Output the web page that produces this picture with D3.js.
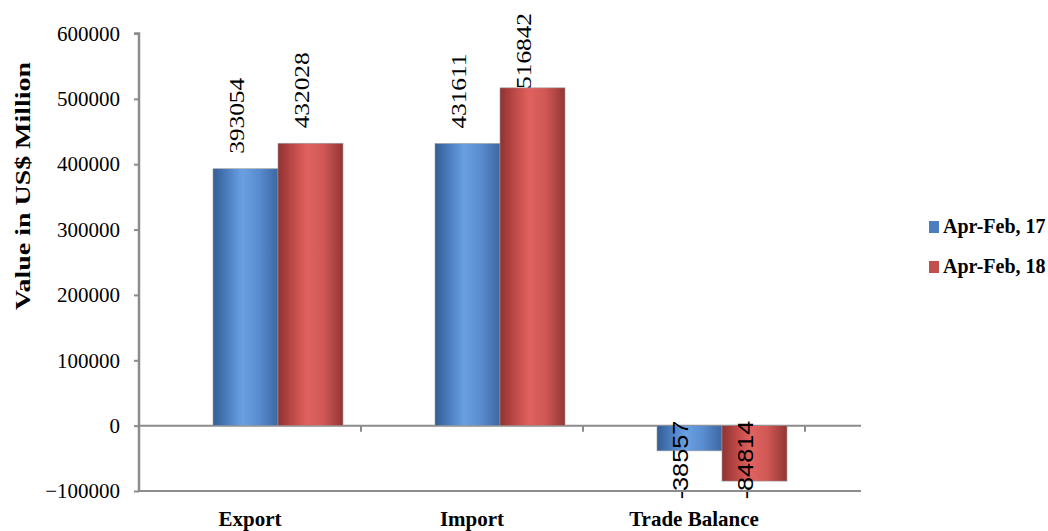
<!DOCTYPE html>
<html>
<head>
<meta charset="utf-8">
<script src="https://cdn.jsdelivr.net/npm/d3@7"></script>
<style>
    body { margin: 0; background: #fff; }
    svg { display: block; }
    text { font-family: "Liberation Serif", "Times New Roman", serif; }
    text.sans { font-family: "Liberation Sans", Arial, sans-serif; }
</style>
</head>
<body>
<svg id="chart" width="1048" height="531"></svg>
<script>
var categories = ["Export", "Import", "Trade Balance"];
var seriesNames = ["Apr-Feb, 17", "Apr-Feb, 18"];
var values17 = [393054, 431611, -38557];
var values18 = [432028, 516842, -84814];
var yTicks = [-100000, 0, 100000, 200000, 300000, 400000, 500000, 600000];

(function () {
    var svg = d3.select("#chart"),
        defs = svg.append("defs");

    var y = d3.scaleLinear()
        .domain([-100000, 600000])
        .range([491, 33.5]);

    // category slots (front face of the 3d floor)
    var x0 = d3.scaleBand()
        .domain(categories)
        .range([139, 805])
        .padding(0);

    var x1 = d3.scaleBand()
        .domain(seriesNames)
        .range([0, 130]);

    var depth = 28;

    // cylinder-ish shading like the excel bars
    var shades = [
        { id: "gBlue", stops: ["#335d95", "#4f82c4", "#6aa0e2", "#5a8dd0", "#3c67a2"] },
        { id: "gRed", stops: ["#8f3331", "#c24b49", "#e0625f", "#cf5855", "#923634"] }
    ];
    shades.forEach(function (s) {
        var lg = defs.append("linearGradient").attr("id", s.id)
            .attr("x1", "0").attr("x2", "1").attr("y1", "0").attr("y2", "0");
        s.stops.forEach(function (c, i) {
            lg.append("stop").attr("offset", [0, 0.25, 0.45, 0.7, 1][i]).attr("stop-color", c);
        });
    });
    var fills = { "Apr-Feb, 17": "url(#gBlue)", "Apr-Feb, 18": "url(#gRed)" };
    var keyColors = { "Apr-Feb, 17": "#4a7ebf", "Apr-Feb, 18": "#c0504d" };

    var rows = categories.map(function (c, i) {
        return { cat: c, vals: [
            { s: seriesNames[0], v: values17[i] },
            { s: seriesNames[1], v: values18[i] }
        ] };
    });

    // floor lines
    svg.append("line")
        .attr("x1", 139).attr("x2", 861)
        .attr("y1", y(0)).attr("y2", y(0))
        .attr("stroke", "#8c8c8c").attr("stroke-width", 2);
    svg.append("line")
        .attr("x1", 139).attr("x2", 861)
        .attr("y1", y(-100000)).attr("y2", y(-100000))
        .attr("stroke", "#8c8c8c").attr("stroke-width", 2);

    // y axis
    var yAxis = svg.append("g")
        .attr("transform", "translate(139,0)")
        .call(d3.axisLeft(y).tickValues(yTicks).tickSize(5).tickPadding(14).tickFormat(d3.format("d")));
    yAxis.attr("font-family", null).attr("font-size", null);
    yAxis.select(".domain").attr("stroke", "#8c8c8c").attr("stroke-width", 2.5)
        .attr("d", "M0," + y(-100000) + "V" + y(600000) + "h-5");
    yAxis.selectAll(".tick line").attr("stroke", "#8c8c8c").attr("stroke-width", 2);
    yAxis.selectAll(".tick text")
        .attr("fill", "#000")
        .style("font-size", "21px");

    // category ticks on the zero line
    svg.selectAll(".ctick")
        .data(categories)
        .enter().append("line")
        .attr("class", "ctick")
        .attr("x1", function (d) { return x0(d) + x0.bandwidth(); })
        .attr("x2", function (d) { return x0(d) + x0.bandwidth(); })
        .attr("y1", y(0))
        .attr("y2", y(0) + 6)
        .attr("stroke", "#8c8c8c").attr("stroke-width", 2);

    // category labels
    svg.selectAll(".clabel")
        .data(categories)
        .enter().append("text")
        .attr("class", "clabel")
        .attr("x", function (d) { return x0(d) + x0.bandwidth() / 2; })
        .attr("y", 526)
        .attr("text-anchor", "middle")
        .style("font-size", "21px")
        .style("font-weight", "bold")
        .text(function (d) { return d; });

    // bars
    var groups = svg.selectAll(".grp")
        .data(rows)
        .enter().append("g")
        .attr("class", "grp")
        .attr("transform", function (d) {
            return "translate(" + (x0(d.cat) + x0.bandwidth() / 2 + depth - 65) + ",0)";
        });

    groups.selectAll("rect")
        .data(function (d) { return d.vals; })
        .enter().append("rect")
        .attr("x", function (d) { return x1(d.s); })
        .attr("width", x1.bandwidth())
        .attr("y", function (d) { return Math.min(y(d.v), y(0)); })
        .attr("height", function (d) { return Math.abs(y(d.v) - y(0)); })
        .attr("fill", function (d) { return fills[d.s]; })
        .attr("stroke", "#9a9a9a")
        .attr("stroke-width", 0.6);

    // value labels (rotated)
    groups.selectAll(".vlabel")
        .data(function (d) { return d.vals; })
        .enter().append("text")
        .attr("class", function (d) { return d.v < 0 ? "vlabel sans" : "vlabel"; })
        .style("font-size", "22px")
        .attr("text-anchor", function (d) { return d.v < 0 ? "end" : "start"; })
        .attr("dy", "0.35em")
        .text(function (d) { return d.v; })
        .attr("transform", function (d) {
            var cx = x1(d.s) + x1.bandwidth() / 2 - 9;
            var len = this.getComputedTextLength() * 1.15;
            var yy;
            if (d.v < 0) {
                yy = y(0) - 5;
            } else {
                yy = Math.max(y(d.v) - 15, 13 + len);
                if (yy > y(d.v) + 2) yy = y(d.v) + 2;
            }
            return "translate(" + cx + "," + yy + ") rotate(-90) scale(1.15,1)";
        });

    // y axis title
    svg.append("text")
        .attr("transform", "translate(30,186) rotate(-90) scale(1.27,1)")
        .attr("text-anchor", "middle")
        .style("font-size", "22px")
        .style("font-weight", "bold")
        .text("Value in US$ Million");

    // legend
    var legend = svg.selectAll(".leg")
        .data(seriesNames)
        .enter().append("g")
        .attr("class", "leg")
        .attr("transform", function (d, i) { return "translate(929," + (221 + i * 40) + ")"; });
    legend.append("rect")
        .attr("width", 10).attr("height", 12)
        .attr("fill", function (d) { return keyColors[d]; });
    legend.append("text")
        .attr("x", 14).attr("y", 12)
        .style("font-size", "20px")
        .style("font-weight", "bold")
        .text(function (d) { return d; });
})();
</script>
</body>
</html>
